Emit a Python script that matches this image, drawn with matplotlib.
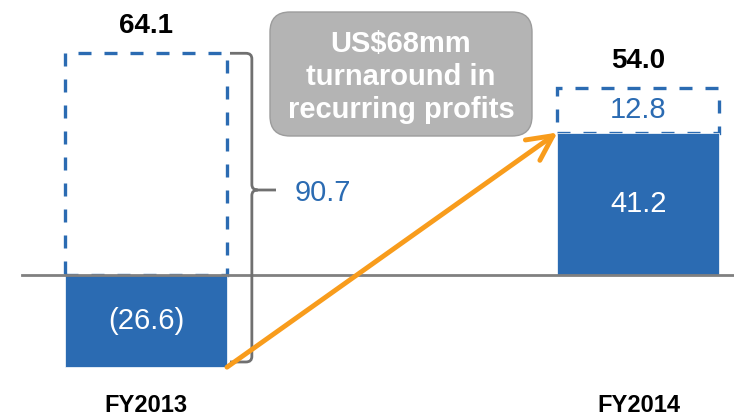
import matplotlib
matplotlib.use('Agg')
import matplotlib.pyplot as plt
from matplotlib.patches import Rectangle, FancyBboxPatch, PathPatch
from matplotlib.path import Path

plt.rcParams['font.family'] = ['Liberation Sans', 'DejaVu Sans']

# data
years = ['FY2013', 'FY2014']
recurring = [-26.6, 41.2]        # solid bars
adjusted_total = [64.1, 54.0]     # dashed outline tops
adjustment_labels = [None, '12.8']
swing = '90.7'
callout = 'US$68mm\nturnaround in\nrecurring profits'

blue = '#2B6BB2'
orange = '#F89C1C'
gray_line = '#808080'
brace_gray = '#707070'

fig = plt.figure(figsize=(7.34, 4.17), dpi=100)
ax = fig.add_axes([0, 0, 1, 1])
ax.set_xlim(-0.2964, 1.194)
ax.set_ylim(-41.0, 79.5)
ax.axis('off')

w = 0.329
xs = list(range(len(years)))

# dashed outlines (drawn from the top of the positive part up to the adjusted total)
for x, r, t in zip(xs, recurring, adjusted_total):
    base = max(r, 0)
    ax.add_patch(Rectangle((x - w / 2, base), w, t - base, fill=False,
                           edgecolor=blue, lw=2.4, linestyle=(0, (3.9, 3.9)), zorder=2))

ax.bar(xs, recurring, width=w, color=blue, edgecolor='white', linewidth=0.5, zorder=3)
ax.axhline(0, xmin=22 / 734, xmax=1, color=gray_line, lw=2, zorder=4)

# value labels
for x, r, t in zip(xs, recurring, adjusted_total):
    lab = f'({abs(r):.1f})' if r < 0 else f'{r:.1f}'
    ax.text(x, r / 2, lab, color='white', fontsize=21, ha='center', va='center', zorder=5)
    ax.text(x, t + 7.8, f'{t:.1f}', color='black', fontsize=20, fontweight='bold',
            ha='center', va='center', zorder=5)
    ax.text(x, -37.6, years[x], color='black', fontsize=17, fontweight='bold',
            ha='center', va='center')

for x, r, t, lab in zip(xs, recurring, adjusted_total, adjustment_labels):
    if lab:
        ax.text(x, (r + t) / 2, lab, color=blue, fontsize=21, ha='center', va='center', zorder=5)

# curly brace next to FY2013
top = adjusted_total[0]
bot = recurring[0] + 1.5
tip = 24.6
x0, x1, x2 = 0.1706, 0.215, 0.264
rx, ry = 0.012, 1.6
verts = [(x0, top), (x1 - rx, top), (x1, top), (x1, top - ry),
         (x1, tip + ry), (x1, tip), (x1 + rx, tip), (x2, tip),
         (x1 + rx, tip), (x1, tip), (x1, tip - ry),
         (x1, bot + ry), (x1, bot), (x1 - rx, bot), (x0, bot)]
codes = [Path.MOVETO, Path.LINETO, Path.CURVE3, Path.CURVE3,
         Path.LINETO, Path.CURVE3, Path.CURVE3, Path.LINETO,
         Path.MOVETO, Path.CURVE3, Path.CURVE3,
         Path.LINETO, Path.CURVE3, Path.CURVE3, Path.LINETO]
ax.add_patch(PathPatch(Path(verts, codes), fill=False, edgecolor=brace_gray, lw=2, zorder=4))
ax.text(0.3025, 23.7, swing, color=blue, fontsize=21, ha='left', va='center')

# turnaround arrow
ax.annotate('', xy=(1 - w / 2, recurring[1]), xytext=(w / 2, recurring[0]),
            arrowprops=dict(arrowstyle='->,head_length=0.9,head_width=0.45', mutation_scale=20,
                            color=orange, lw=3.5, shrinkA=0, shrinkB=0), zorder=6)

# callout box
box = FancyBboxPatch((2.70, 2.81), 2.62, 1.24, boxstyle='round,pad=0,rounding_size=0.2',
                     transform=fig.dpi_scale_trans, facecolor='#B4B4B4', edgecolor='#9C9C9C',
                     lw=1, zorder=5)
ax.add_patch(box)
fig.text(401 / 734, 1 - 77 / 417, callout, color='white', fontsize=21, fontweight='bold',
         ha='center', va='center', linespacing=1.25, zorder=6)

fig.savefig('out.png', dpi=100)
